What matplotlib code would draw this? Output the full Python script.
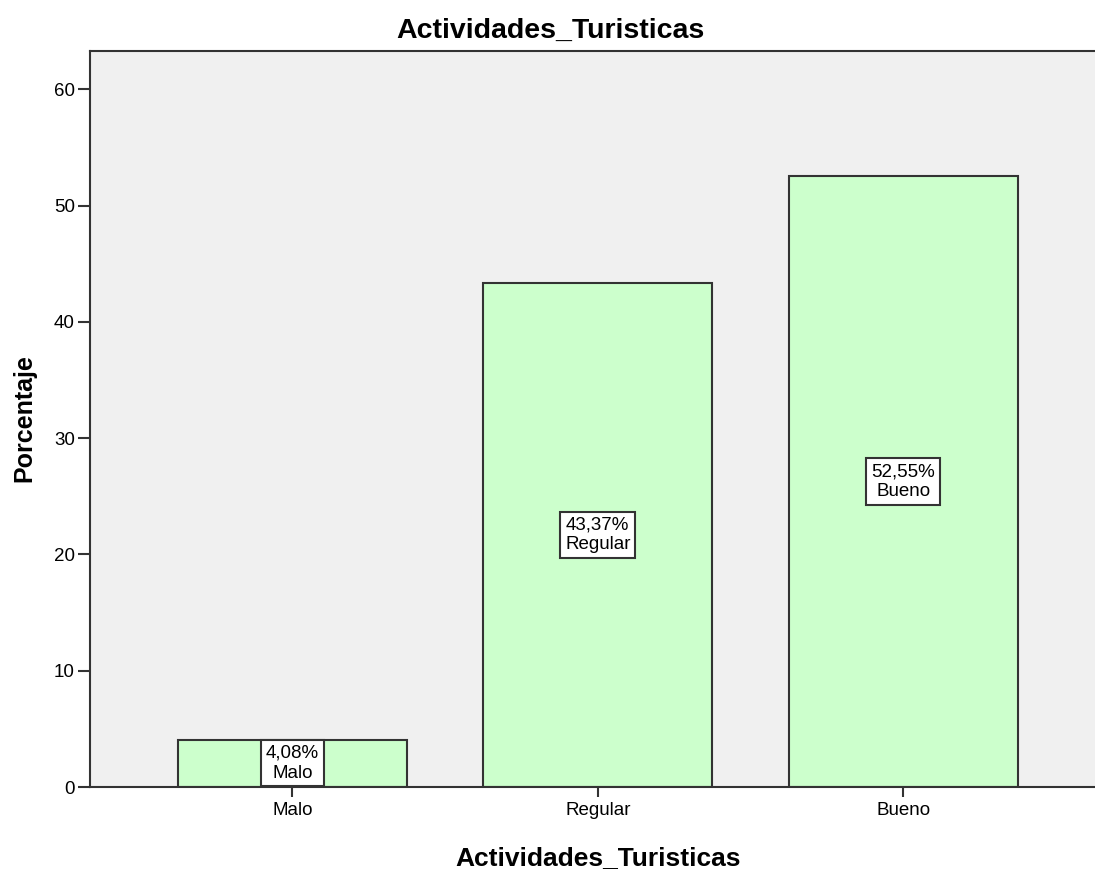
import matplotlib
matplotlib.use("Agg")
import matplotlib.pyplot as plt

categories = ["Malo", "Regular", "Bueno"]
percentages = [4.08, 43.37, 52.55]
value_labels = ["4,08%", "43,37%", "52,55%"]
yticks = [0, 10, 20, 30, 40, 50, 60]

plt.rcParams['font.family'] = ['Liberation Sans', 'DejaVu Sans']

W, H = 1095, 872
fig = plt.figure(figsize=(W / 100, H / 100), dpi=100)
ax = fig.add_axes([90 / W, 1 - 787 / H, (W - 90 + 2) / W, (787 - 51) / H])
ax.set_facecolor('#F0F0F0')

x = list(range(len(categories)))
ax.bar(x, percentages, width=0.75, color='#CCFFCC', edgecolor='#333333', linewidth=1.5, zorder=2)

for xi, v, lab, cat in zip(x, percentages, value_labels, categories):
    ax.text(xi, v / 2, f"{lab}\n{cat}", ha='center', va='center', fontsize=13.5,
            linespacing=1.2, zorder=4,
            bbox=dict(boxstyle='square,pad=0.26', facecolor='white', edgecolor='#333333', linewidth=1.5))

ax.set_xlim(-0.663, 2.635)
ax.set_ylim(0, 63.3)
ax.set_yticks(yticks)
ax.set_xticks(x)
ax.set_xticklabels(categories)
ax.tick_params(axis='y', direction='out', length=9, width=1.5, color='#333333', labelsize=13.5, pad=2)
ax.tick_params(axis='x', direction='out', length=7.5, width=1.5, color='#333333', labelsize=13.5, pad=3)

for side in ['left', 'top', 'bottom']:
    ax.spines[side].set_color('#333333')
    ax.spines[side].set_linewidth(1.5)
ax.spines['right'].set_visible(False)

fig.text(550 / W, 1 - 38 / H, "Actividades_Turisticas", fontsize=20.5, fontweight='bold',
         ha='center', va='baseline')
fig.text(598 / W, 1 - 865 / H, "Actividades_Turisticas", fontsize=19, fontweight='bold',
         ha='center', va='baseline')
fig.text(24 / W, 1 - 418 / H, "Porcentaje", fontsize=18, fontweight='bold',
         ha='center', va='center', rotation=90)

fig.savefig("out.png", dpi=100)
